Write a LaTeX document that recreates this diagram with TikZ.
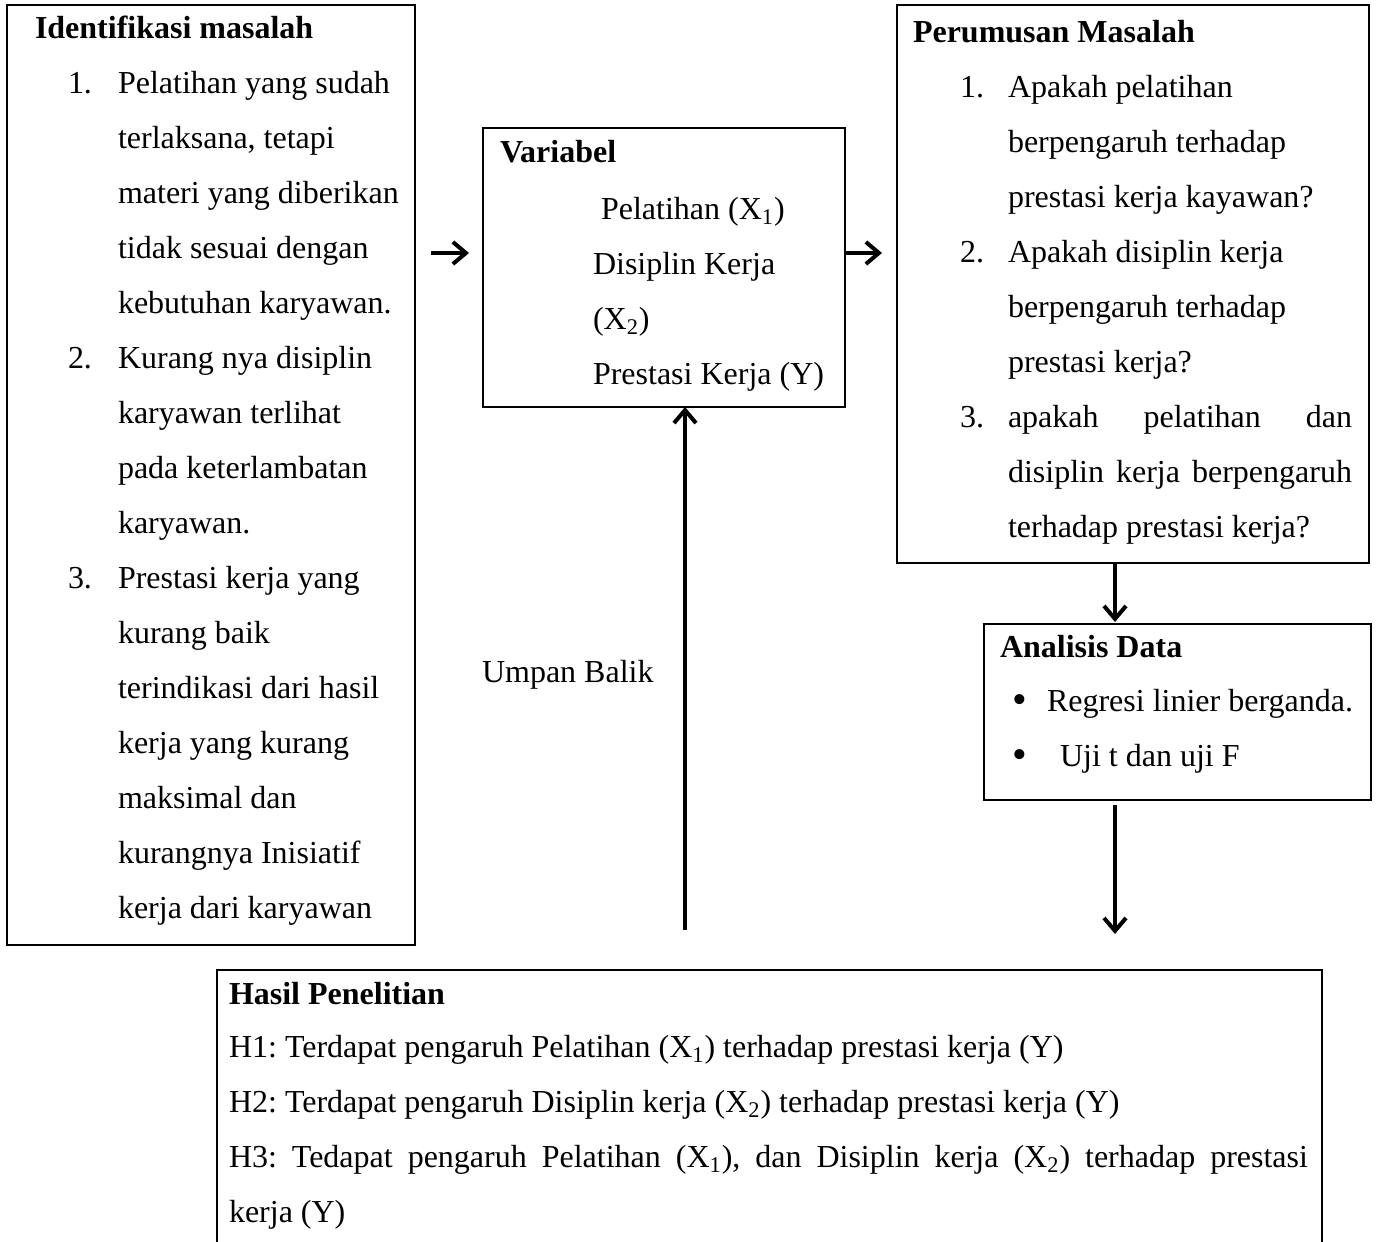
\documentclass[tikz,border=0pt]{standalone}
\usepackage{fontspec}
\setmainfont{Liberation Serif}
\usetikzlibrary{arrows.meta}
\frenchspacing
\tikzset{
  box/.style={draw, line width=1.25pt, anchor=north west, inner sep=0pt, outer sep=0pt},
  txt/.style={anchor=base west, inner sep=0pt, outer sep=0pt, yshift=-1pt, font=\fontsize{16}{19}\selectfont},
  ttl/.style={txt, font=\fontsize{16}{19}\selectfont\bfseries},
  arr/.style={line width=1.75pt, -{Straight Barb[length=6.5pt,width=11pt,line width=2pt]}}
}
\newcommand{\bigbul}{{\fontsize{21}{21}\selectfont\textbullet}}
\begin{document}
\begin{tikzpicture}[x=0.5pt,y=-0.5pt]
\useasboundingbox (0,0) rectangle (1376,1242);
\clip (0,0) rectangle (1376,1242);
% boxes
\node[box, minimum width=204pt, minimum height=470pt] (b1) at (7,5) {};
\node[box, minimum width=181pt, minimum height=139.5pt] (b2) at (483,128) {};
\node[box, minimum width=236pt, minimum height=279pt] (b3) at (897,5) {};
\node[box, minimum width=193.5pt, minimum height=88pt] (b4) at (984,624) {};
\node[box, minimum width=552.5pt, minimum height=145pt] (b5) at (217,970) {};
% box 1 text
\node[ttl] (t1) at (35,37) {Identifikasi masalah};
\node[txt] (n11) at (68,91) {1.};
\node[txt] (l11) at (118,91) {Pelatihan yang sudah};
\node[txt] (l12) at (118,146) {terlaksana, tetapi};
\node[txt] (l13) at (118,201) {materi yang diberikan};
\node[txt] (l14) at (118,256) {tidak sesuai dengan};
\node[txt] (l15) at (118,311) {kebutuhan karyawan.};
\node[txt] (n12) at (68,366) {2.};
\node[txt] (l16) at (118,366) {Kurang nya disiplin};
\node[txt] (l17) at (118,421) {karyawan terlihat};
\node[txt] (l18) at (118,476) {pada keterlambatan};
\node[txt] (l19) at (118,531) {karyawan.};
\node[txt] (n13) at (68,586) {3.};
\node[txt] (l1a) at (118,586) {Prestasi kerja yang};
\node[txt] (l1b) at (118,641) {kurang baik};
\node[txt] (l1c) at (118,696) {terindikasi dari hasil};
\node[txt] (l1d) at (118,751) {kerja yang kurang};
\node[txt] (l1e) at (118,806) {maksimal dan};
\node[txt] (l1f) at (118,861) {kurangnya Inisiatif};
\node[txt] (l1g) at (118,916) {kerja dari karyawan};
% box 2 text
\node[ttl] (t2) at (500,160) {Variabel};
\node[txt] (l21) at (601,217) {Pelatihan (X\textsubscript{1})};
\node[txt] (l22) at (593,272) {Disiplin Kerja};
\node[txt] (l23) at (593,327) {(X\textsubscript{2})};
\node[txt] (l24) at (593,382) {Prestasi Kerja (Y)};
% box 3 text
\node[ttl] (t3) at (913,40) {Perumusan Masalah};
\node[txt] (n31) at (960,95) {1.};
\node[txt] (l31) at (1008,95) {Apakah pelatihan};
\node[txt] (l32) at (1008,150) {berpengaruh terhadap};
\node[txt] (l33) at (1008,205) {prestasi kerja kayawan?};
\node[txt] (n32) at (960,260) {2.};
\node[txt] (l34) at (1008,260) {Apakah disiplin kerja};
\node[txt] (l35) at (1008,315) {berpengaruh terhadap};
\node[txt] (l36) at (1008,370) {prestasi kerja?};
\node[txt] (n33) at (960,425) {3.};
\node[txt] (l37) at (1008,425) {\makebox[172pt][s]{apakah pelatihan dan}};
\node[txt] (l38) at (1008,480) {\makebox[172pt][s]{disiplin kerja berpengaruh}};
\node[txt] (l39) at (1008,535) {terhadap prestasi kerja?};
% box 4 text
\node[ttl] (t4) at (1000,655) {Analisis Data};
\node[txt] (bu1) at (1012,711) {\bigbul};
\node[txt] (l41) at (1047,709) {Regresi linier berganda.};
\node[txt] (bu2) at (1012,766) {\bigbul};
\node[txt] (l42) at (1060,764) {Uji t dan uji F};
% feedback label
\node[txt] (ub) at (482,680) {Umpan Balik};
% box 5 text
\node[ttl] (t5) at (229,1002) {Hasil Penelitian};
\node[txt] (l51) at (229,1055) {H1: Terdapat pengaruh Pelatihan (X\textsubscript{1}) terhadap prestasi kerja (Y)};
\node[txt] (l52) at (229,1110) {H2: Terdapat pengaruh Disiplin kerja (X\textsubscript{2}) terhadap prestasi kerja (Y)};
\node[txt] (l53) at (229,1165) {\makebox[539.5pt][s]{H3: Tedapat pengaruh Pelatihan (X\textsubscript{1}), dan Disiplin kerja (X\textsubscript{2}) terhadap prestasi}};
\node[txt] (l54) at (229,1220) {kerja (Y)};
% arrow ends
\coordinate (a1s) at (431,253);
\coordinate (a1e) at (469,253);
\coordinate (a2s) at (b2.east |- a1s);
\coordinate (a2e) at (882,253);
\coordinate (a3s) at (b3.south -| 1115,0);
\coordinate (a3e) at (1115,622);
\coordinate (a4s) at (685,930);
\coordinate (a4e) at (b2.south -| a4s);
\coordinate (a5s) at (1115,805);
\coordinate (a5e) at (1115,934);
% arrows
\draw[arr] (a1s) -- (a1e);
\draw[arr] (a2s) -- (a2e);
\draw[arr] (a3s) -- (a3e);
\draw[arr] (a4s) -- (a4e);
\draw[arr] (a5s) -- (a5e);
\end{tikzpicture}
\end{document}
